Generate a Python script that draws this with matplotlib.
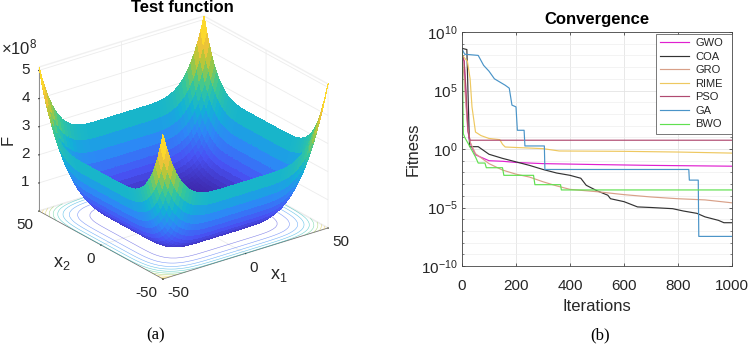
import numpy as np
import matplotlib
matplotlib.use("Agg")
import matplotlib.pyplot as plt
from matplotlib.colors import LinearSegmentedColormap
from matplotlib.ticker import LogFormatterMathtext, NullFormatter, FixedLocator
from mpl_toolkits.mplot3d import proj3d

plt.rcParams['font.family'] = ['Liberation Sans', 'DejaVu Sans']
plt.rcParams['mathtext.fontset'] = 'custom'
plt.rcParams['mathtext.rm'] = 'Liberation Sans'
plt.rcParams['mathtext.it'] = 'Liberation Sans'
plt.rcParams['mathtext.bf'] = 'Liberation Sans:bold'
plt.rcParams['mathtext.default'] = 'regular'
plt.rcParams['axes.unicode_minus'] = False

# ---------- panel (a) data: height profile per axis (×1e8), |x| = 0, 2, ... 50
grid_half = [0, 2, 4, 6, 8, 10, 12, 14, 16, 18, 20, 22, 24, 26, 28, 30, 32, 34, 36, 38, 40, 42, 44, 46, 48, 50]
profile_half = [0, 0, 0, 0, 0, 0, 0.00002, 0.0003, 0.0013, 0.004, 0.01, 0.021, 0.038, 0.066, 0.105,
                0.16, 0.234, 0.332, 0.457, 0.615, 0.81, 1.05, 1.336, 1.68, 2.085, 2.56]
contour_levels = [0.5, 1.0, 1.5, 2.0, 2.5, 3.0, 3.5, 4.0, 4.5, 5.0]
ztick_vals = [1, 2, 3, 4, 5]
xy_ticks = [-50, 0, 50]

# ---------- panel (b) data
x_ticks = [0, 200, 400, 600, 800, 1000]
y_ticks = [1e-10, 1e-5, 1e0, 1e5, 1e10]
names = ['GWO', 'COA', 'GRO', 'RIME', 'PSO', 'GA', 'BWO']
colors = ['#e020d0', '#333333', '#d8a088', '#eec860', '#b04a70', '#4a94c8', '#60e050']

gwo_x = [1, 8, 15, 25, 35, 50, 100, 150, 200, 300, 500, 700, 1000]
gwo_y = [8.0, 7.5, 4.0, 1.0, 0.2, -0.5, -1.0, -1.05, -1.15, -1.25, -1.33, -1.4, -1.47]
coa_x = [1, 18, 22, 28, 60, 100, 150, 200, 250, 300, 350, 400, 440, 460, 500, 540, 550, 600, 650, 700, 780, 800,
         820, 870, 900, 950, 970, 1000]
coa_y = [8.6, 8.5, 5.0, 0.2, 0.2, -0.45, -0.8, -1.1, -1.4, -1.75, -2.05, -2.25, -2.5, -3.1, -3.57, -3.95, -4.25,
         -4.5, -4.95, -5.0, -5.1, -5.2, -5.3, -5.5, -5.8, -6.1, -6.3, -6.3]
gro_x = [1, 8, 20, 30, 50, 100, 150, 200, 250, 300, 350, 400, 500, 600, 700, 800, 900, 1000]
gro_y = [8.0, 6.0, 2.0, 0.6, -0.4, -1.25, -1.8, -2.15, -2.4, -2.8, -3.15, -3.45, -3.65, -3.9, -4.1, -4.25, -4.35, -4.6]
rime_x = [1, 20, 30, 37, 50, 70, 100, 140, 150, 160, 300, 360, 600, 800, 1000]
rime_y = [8.0, 7.5, 6.0, 3.6, 1.45, 1.15, 0.9, 0.8, 0.4, 0.17, 0.03, -0.17, -0.2, -0.26, -0.35]
pso_x = [1, 8, 15, 22, 30, 1000]
pso_y = [8.0, 7.5, 5.0, 1.5, 0.75, 0.75]
ga_x = [1, 10, 60, 80, 100, 120, 160, 175, 185, 200, 205, 230, 233, 305, 307, 840, 842, 875, 877, 1000]
ga_y = [8.5, 8.1, 8.0, 7.15, 6.65, 6.0, 5.45, 5.2, 3.75, 3.6, 1.6, 1.6, 0.26, 0.26, -1.75, -1.75, -2.66, -2.66, -7.47, -7.47]
bwo_x = [1, 5, 10, 30, 50, 60, 85, 90, 150, 155, 265, 270, 365, 368, 1000]
bwo_y = [8.3, 1.3, 1.0, 0.17, -0.68, -1.2, -1.2, -1.6, -1.6, -2.25, -2.25, -3.05, -3.05, -3.5, -3.5]
series_x = [gwo_x, coa_x, gro_x, rime_x, pso_x, ga_x, bwo_x]
series_y = [gwo_y, coa_y, gro_y, rime_y, pso_y, ga_y, bwo_y]

W, H = 749, 344
fig = plt.figure(figsize=(W / 100, H / 100), dpi=100, facecolor='white')
TXT = '#262626'

parula = LinearSegmentedColormap.from_list('parula', [
    (.2422, .1504, .6603), (.2810, .3228, .9579), (.1786, .5289, .9682), (.0689, .6948, .8394),
    (.2161, .7843, .5923), (.6720, .7793, .2227), (.9970, .7659, .2199), (.9769, .9839, .0805)])

# ---------- (a) surface
coords = np.concatenate([-np.array(grid_half[:0:-1]), grid_half])
prof = np.concatenate([profile_half[:0:-1], profile_half])
X, Y = np.meshgrid(coords, coords)
Z = prof[np.newaxis, :] + prof[:, np.newaxis]

ax = fig.add_axes([0, 0, 1, 1], projection='3d', proj_type='ortho', facecolor='none')
ax.set_box_aspect((206.4, 206.4, 158), zoom=0.8)
ax.view_init(elev=24.3, azim=-126.9)
ax.plot_surface(X, Y, Z, cmap=parula, vmin=0, vmax=5.12, rstride=1, cstride=1,
                linewidth=0, antialiased=False, shade=False)
ax.contour(X, Y, Z, levels=contour_levels, zdir='z', offset=0, cmap=parula, vmin=0, vmax=5.12,
           linewidths=0.4, alpha=0.65)
ax.set_xlim(-50, 50); ax.set_ylim(-50, 50); ax.set_zlim(0, 5.12)
ax.set_xticks(xy_ticks); ax.set_yticks(xy_ticks); ax.set_zticks(ztick_vals)
ax.tick_params(axis='x', labelsize=11, colors=TXT, pad=-2.7)
ax.tick_params(axis='y', labelsize=11, colors=TXT, pad=-2.7)
ax.tick_params(axis='z', labelsize=11, colors=TXT, pad=-3.2)
for t in ax.xaxis.get_major_ticks():
    t.label1.set_ha('left')
for t in ax.yaxis.get_major_ticks():
    t.label1.set_ha('right')
for t in ax.zaxis.get_major_ticks():
    t.label1.set_ha('right')
    t.label1.set_va('center')
for a in (ax.xaxis, ax.yaxis, ax.zaxis):
    a.set_pane_color((1, 1, 1, 1))
    a.pane.set_edgecolor('#f0f0f0')
    a._axinfo['grid'].update(color='#ececec', linewidth=0.6)
    a._axinfo['tick'].update(inward_factor=0.02, outward_factor=0.0)
    a.line.set_color('#666666')
    a.line.set_linewidth(0.5)


def fit_axes():
    """Scale and shift the square axes so the floor corners land on the wanted pixels."""
    targets = {(-50, 50): (39, 211), (50, -50): (328, 228), (-50, -50): (163, 279)}
    S, x0, y0 = 600.0, 0.0, 0.0
    for _ in range(2):
        ax.set_position([x0 / W, y0 / H, S / W, S / H])
        fig.canvas.draw()
        pts = []
        for (a, b) in targets:
            xs, ys, _z = proj3d.proj_transform(a, b, 0, ax.get_proj())
            pts.append(ax.transData.transform((xs, ys)))
        pts = np.array(pts)
        tg = np.array([(tx, H - ty) for tx, ty in targets.values()], float)
        k = (tg[:, 0].max() - tg[:, 0].min()) / (pts[:, 0].max() - pts[:, 0].min())
        S *= k
        x0 = tg[:, 0].mean() - k * (pts[:, 0].mean() - x0)
        y0 = tg[:, 1].mean() - k * (pts[:, 1].mean() - y0)
    ax.set_position([x0 / W, y0 / H, S / W, S / H])


fit_axes()

fig.text(182 / W, 1 - 7 / H, 'Test function', ha='center', va='center', fontsize=12, fontweight='bold', color='black')
fig.text(1 / W, 1 - 47 / H, r'$\times10^{8}$', ha='left', va='center', fontsize=12, color=TXT)
fig.text(8 / W, 1 - 140 / H, 'F', ha='center', va='center', rotation=90, fontsize=12, color=TXT)
fig.text(62 / W, 1 - 264 / H, 'x$_2$', ha='center', va='center', fontsize=13, color=TXT)
fig.text(279 / W, 1 - 276 / H, 'x$_1$', ha='center', va='center', fontsize=13, color=TXT)
fig.text(156 / W, 1 - 335 / H, '(a)', ha='center', va='center', fontsize=12, family='Liberation Serif', color='black')
fig.text(600 / W, 1 - 335 / H, '(b)', ha='center', va='center', fontsize=12, family='Liberation Serif', color='black')

# ---------- (b) convergence
ax2 = fig.add_axes([462 / W, 1 - 266 / H, 270 / W, 234 / H])
for xs, ys, name, col in zip(series_x, series_y, names, colors):
    ax2.plot(xs, 10.0 ** np.array(ys), color=col, lw=0.85, label=name)
ax2.set_yscale('log')
ax2.set_xlim(0, 1000)
ax2.set_ylim(1e-10, 1e10)
ax2.set_xticks(x_ticks)
ax2.yaxis.set_major_locator(FixedLocator(y_ticks))
ax2.yaxis.set_major_formatter(LogFormatterMathtext())
ax2.yaxis.set_minor_locator(FixedLocator([10.0 ** k for k in range(-10, 11) if k % 5]))
ax2.yaxis.set_minor_formatter(NullFormatter())
ax2.grid(True, which='major', color='#e4e4e4', lw=0.6)
ax2.grid(True, which='minor', axis='y', color='#eeeeee', lw=0.5)
ax2.set_axisbelow(True)
ax2.tick_params(axis='both', which='major', direction='in', length=2.5, width=0.5, labelsize=11, colors=TXT, pad=3)
ax2.tick_params(axis='x', which='major', pad=9)
ax2.tick_params(axis='y', which='minor', direction='in', length=1.3, width=0.4, colors=TXT)
ax2.tick_params(top=True, right=True, which='both')
for s in ax2.spines.values():
    s.set_linewidth(0.6); s.set_color('#444444')
ax2.set_xlabel('Iterations', fontsize=12, color=TXT, labelpad=5)
ax2.set_ylabel('Fitness', fontsize=12, color=TXT, labelpad=0)
ax2.set_title('Convergence', fontsize=12, fontweight='bold', color='black', pad=6)
leg = ax2.legend(loc='upper left', bbox_to_anchor=(0.7185, 0.9915, 0.2815, 0), mode='expand', fontsize=8, frameon=True,
                 fancybox=False, framealpha=1, edgecolor='#444444', borderaxespad=0, handlelength=2.6,
                 labelspacing=0.32, borderpad=0.37, handletextpad=0.55)
leg.get_frame().set_linewidth(0.5)
for t in leg.get_texts():
    t.set_color(TXT)

fig.savefig('out.png', dpi=100)
